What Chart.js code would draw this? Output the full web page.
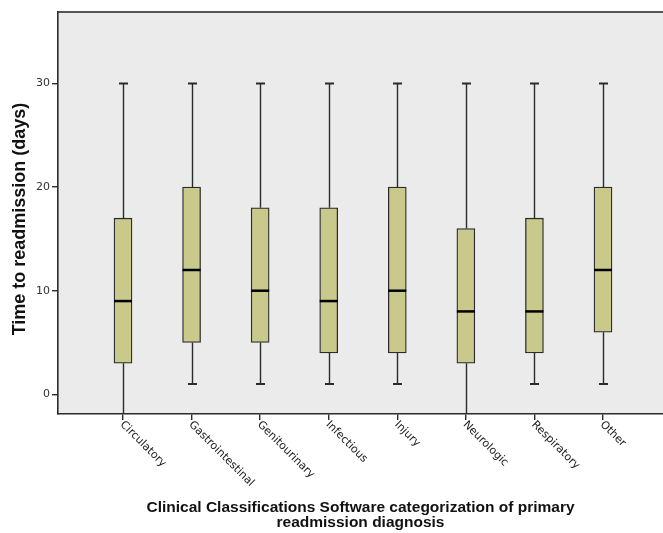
<!DOCTYPE html>
<html>
<head>
<meta charset="utf-8">
<script src="https://cdn.jsdelivr.net/npm/chart.js@4/dist/chart.umd.min.js"></script>
<style>
  html, body { margin: 0; padding: 0; background: #fff; }
  canvas { display: block; }
</style>
</head>
<body>
<canvas id="boxChart" width="663" height="533"></canvas>
<script>
const categories = ['Circulatory', 'Gastrointestinal', 'Genitourinary', 'Infectious', 'Injury', 'Neurologic', 'Respiratory', 'Other'];
// five-number summaries per category (days); low whisker below the axis floor runs off the plot
const whiskerLow = [-3, 1, 1, 1, 1, -3, 1, 1];
const quartile1 = [3, 5, 5, 4, 4, 3, 4, 6];
const medians = [9, 12, 10, 9, 10, 8, 8, 12];
const quartile3 = [17, 20, 18, 18, 20, 16, 17, 20];
const whiskerHigh = [30, 30, 30, 30, 30, 30, 30, 30];
const yTicks = [0, 10, 20, 30];
const yTitle = 'Time to readmission (days)';

const positions = categories.map((c, i) => i + 1);

const ink = '#2b2b2b';

const boxPlotDecor = {
    id: 'boxPlotDecor',
    beforeDraw(chart) {
        const { ctx, chartArea: a } = chart;
        ctx.save();
        ctx.fillStyle = '#ebebeb';
        ctx.fillRect(a.left, a.top, a.right - a.left, a.bottom - a.top);
        ctx.strokeStyle = '#555';
        ctx.lineWidth = 2;
        ctx.beginPath();
        ctx.moveTo(a.left, a.top);
        ctx.lineTo(a.right, a.top);
        ctx.stroke();
        ctx.restore();
    },
    beforeDatasetsDraw(chart) {
        const { ctx, chartArea: a, scales: { x, y } } = chart;
        ctx.save();
        ctx.beginPath();
        ctx.rect(a.left, a.top, a.right - a.left, a.bottom - a.top);
        ctx.clip();
        ctx.strokeStyle = ink;
        positions.forEach((p, i) => {
            const px = Math.round(x.getPixelForValue(p)) + 0.5;
            ctx.lineWidth = 1.4;
            ctx.beginPath();
            ctx.moveTo(px, y.getPixelForValue(quartile3[i]));
            ctx.lineTo(px, y.getPixelForValue(whiskerHigh[i]));
            ctx.moveTo(px, y.getPixelForValue(quartile1[i]));
            ctx.lineTo(px, y.getPixelForValue(whiskerLow[i]));
            ctx.stroke();
            ctx.lineWidth = 2;
            ctx.beginPath();
            [whiskerHigh[i], whiskerLow[i]].forEach(v => {
                const py = y.getPixelForValue(v);
                ctx.moveTo(px - 4.5, py);
                ctx.lineTo(px + 4.5, py);
            });
            ctx.stroke();
        });
        ctx.restore();
    },
    afterDatasetsDraw(chart) {
        const { ctx, scales: { y } } = chart;
        const meta = chart.getDatasetMeta(0);
        ctx.save();
        ctx.strokeStyle = '#000';
        ctx.lineWidth = 2.5;
        positions.forEach((p, i) => {
            const bar = meta.data[i];
            const half = bar.width / 2;
            const py = y.getPixelForValue(medians[i]);
            ctx.beginPath();
            ctx.moveTo(bar.x - half, py);
            ctx.lineTo(bar.x + half, py);
            ctx.stroke();
        });
        ctx.restore();
    },
    afterDraw(chart) {
        const { ctx, chartArea: a, scales: { x } } = chart;
        ctx.save();
        // category labels slant down to the right from each tick
        ctx.fillStyle = '#222';
        ctx.font = '11px "DejaVu Sans"';
        ctx.textAlign = 'left';
        ctx.textBaseline = 'middle';
        categories.forEach((label, i) => {
            const px = x.getPixelForValue(positions[i]);
            ctx.save();
            ctx.translate(px + 1, a.bottom + 11);
            ctx.rotate(Math.PI / 4);
            ctx.fillText(label, -3, 0);
            ctx.restore();
        });
        // y title sits a little below the middle of the plot
        ctx.fillStyle = '#111';
        ctx.font = 'bold 18px "Liberation Sans"';
        ctx.textAlign = 'center';
        ctx.translate(20, (a.top + a.bottom) / 2 + 6);
        ctx.rotate(-Math.PI / 2);
        ctx.fillText(yTitle, 0, 0);
        ctx.restore();
    }
};

new Chart(document.getElementById('boxChart'), {
    type: 'bar',
    data: {
        datasets: [{
            data: positions.map((p, i) => ({ x: p, y: [quartile1[i], quartile3[i]] })),
            backgroundColor: '#c8c98b',
            borderColor: ink,
            borderWidth: 1.3,
            borderSkipped: false,
            barThickness: 18
        }]
    },
    options: {
        responsive: false,
        animation: false,
        devicePixelRatio: 1,
        layout: { padding: { top: 12, right: 0, bottom: 0, left: 0 } },
        plugins: {
            legend: { display: false },
            tooltip: { enabled: false }
        },
        scales: {
            x: {
                type: 'linear',
                offset: false,
                min: 0.052,
                max: 8.875,
                afterBuildTicks: scale => { scale.ticks = positions.map(v => ({ value: v })); },
                afterFit: scale => { scale.height = 119; },
                ticks: { display: false },
                grid: { offset: false, drawOnChartArea: false, drawTicks: true, tickLength: 6, color: ink, lineWidth: 1.4 },
                border: { color: ink, width: 1.6 },
                title: {
                    display: true,
                    text: ['Clinical Classifications Software categorization of primary', 'readmission diagnosis'],
                    color: '#111',
                    font: { family: 'Liberation Sans', size: 15.5, weight: 'bold', lineHeight: 0.95 },
                    padding: { top: 0, bottom: 3 }
                }
            },
            y: {
                min: -1.9,
                max: 36.9,
                afterBuildTicks: scale => { scale.ticks = yTicks.map(v => ({ value: v })); },
                afterFit: scale => { scale.width = 58; },
                ticks: {
                    color: '#333',
                    font: { family: 'DejaVu Sans', size: 11 },
                    padding: 2
                },
                grid: { drawOnChartArea: false, drawTicks: true, tickLength: 6, color: ink, lineWidth: 1.4 },
                border: { color: ink, width: 1.6 }
            }
        }
    },
    plugins: [boxPlotDecor]
});
</script>
</body>
</html>
